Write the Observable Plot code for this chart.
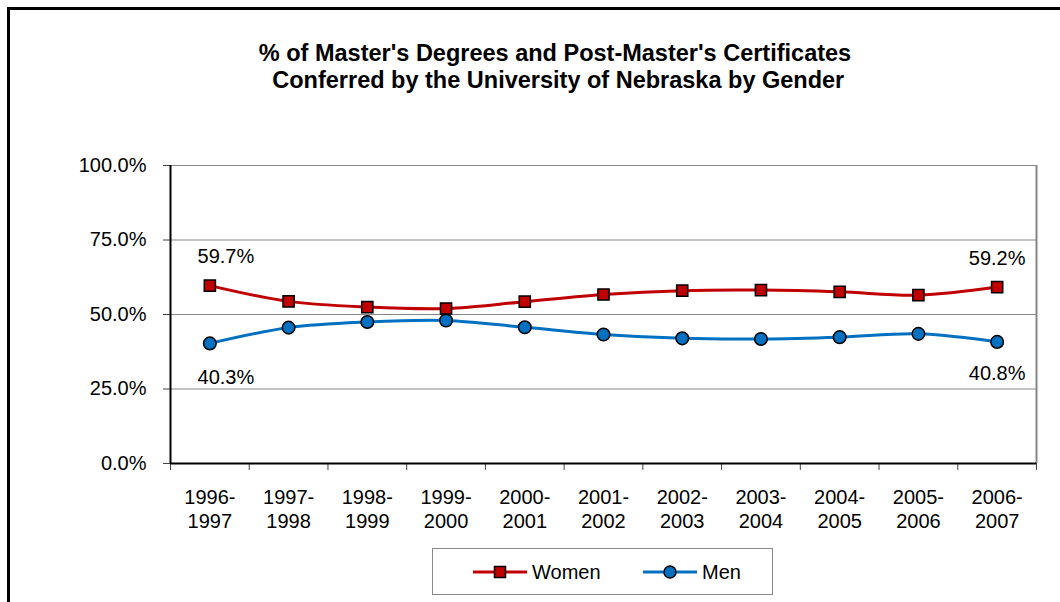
<!DOCTYPE html>
<html>
<head>
<meta charset="utf-8">
<script src="https://cdn.jsdelivr.net/npm/d3@7"></script>
<script src="https://cdn.jsdelivr.net/npm/@observablehq/plot@0.6"></script>
<style>
  html, body { margin: 0; padding: 0; background: #fff; }
  #wrap { position: relative; width: 1060px; height: 602px; overflow: hidden; font-family: "Liberation Sans", Arial, sans-serif; }
  #frame { position: absolute; left: 7px; top: 7px; width: 1200px; height: 700px; border-left: 3px solid #000; border-top: 3px solid #000; }
  #title { position: absolute; left: 155px; width: 800px; top: 40px; text-align: center; font-weight: bold; font-size: 23.5px; line-height: 27px; white-space: pre; color: #000; }
  #chart { position: absolute; left: 0; top: 0; }
  #legend { position: absolute; left: 432px; top: 548px; width: 339px; height: 45px; border: 1.5px solid #888; background: #fff; }
  #legend svg { position: absolute; left: 0; top: 0; }
</style>
</head>
<body>
<div id="wrap">
  <div id="frame"></div>
  <div id="chart"></div>
  <div id="title"></div>
  <div id="legend"></div>
</div>
<script>
const titleLines = ["% of Master's Degrees and Post-Master's Certificates", " Conferred by the University of Nebraska by Gender"];
const categories = ["1996-\n1997", "1997-\n1998", "1998-\n1999", "1999-\n2000", "2000-\n2001", "2001-\n2002", "2002-\n2003", "2003-\n2004", "2004-\n2005", "2005-\n2006", "2006-\n2007"];
const women = [59.7, 54.4, 52.5, 52.0, 54.3, 56.7, 58.0, 58.2, 57.6, 56.5, 59.2];
const men = [40.3, 45.6, 47.5, 48.0, 45.7, 43.3, 42.0, 41.8, 42.4, 43.5, 40.8];
const yTicks = [0, 25, 50, 75, 100];
const seriesNames = ["Women", "Men"];
const colors = {Women: "#C00000", Men: "#0070C0"};

document.getElementById("title").textContent = titleLines.join("\n");

const data = categories.map((c, i) => ({i, c, women: women[i], men: men[i]}));
const n = categories.length;
const bounds = d3.range(n + 1).map(i => i - 0.5);
const first = [data[0]], last = [data[n - 1]];
const pct = v => v.toFixed(1) + "%";

const chart = Plot.plot({
  width: 1060,
  height: 602,
  marginLeft: 170,
  marginRight: 24,
  marginTop: 165,
  marginBottom: 139,
  x: {domain: [-0.5, n - 0.5], axis: null, label: null},
  y: {domain: [0, 100], axis: null, label: null},
  style: {fontFamily: "'Liberation Sans', Arial, sans-serif", fontSize: "20px", background: "transparent", color: "#000", overflow: "visible"},
  marks: [
    Plot.ruleY(yTicks.filter(d => d > 0), {stroke: "#868686", strokeWidth: 1.2}),
    Plot.ruleX([n - 0.5], {stroke: "#868686", strokeWidth: 2}),
    Plot.axisY(yTicks, {label: null, tickFormat: pct, tickSize: 7, tickPadding: 17, stroke: "#444", fontSize: 20, fill: "#000"}),
    Plot.axisX(bounds, {label: null, tickSize: 7, tickFormat: () => "", stroke: "#444"}),
    Plot.axisX(d3.range(n), {label: null, tickSize: 0, tickPadding: 23, tickFormat: i => categories[i], fontSize: 20, fill: "#000", lineHeight: 1.2}),
    Plot.ruleY([0], {stroke: "#000", strokeWidth: 2}),
    Plot.ruleX([-0.5], {stroke: "#000", strokeWidth: 2}),
    Plot.line(data, {x: "i", y: "women", stroke: colors.Women, strokeWidth: 3, curve: "catmull-rom"}),
    Plot.line(data, {x: "i", y: "men", stroke: colors.Men, strokeWidth: 3, curve: "catmull-rom"}),
    Plot.dot(data, {x: "i", y: "women", symbol: "square", r: 6.3, fill: colors.Women, stroke: "#000", strokeWidth: 1.5}),
    Plot.dot(data, {x: "i", y: "men", symbol: "circle", r: 6.3, fill: colors.Men, stroke: "#000", strokeWidth: 1.5}),
    Plot.text(first, {x: "i", y: "women", text: d => pct(d.women), dx: 16, dy: -29, fontSize: 20, fill: "#000"}),
    Plot.text(last, {x: "i", y: "women", text: d => pct(d.women), dx: 0, dy: -28, fontSize: 20, fill: "#000"}),
    Plot.text(first, {x: "i", y: "men", text: d => pct(d.men), dx: 16, dy: 34, fontSize: 20, fill: "#000"}),
    Plot.text(last, {x: "i", y: "men", text: d => pct(d.men), dx: 0, dy: 32, fontSize: 20, fill: "#000"})
  ]
});
document.getElementById("chart").appendChild(chart);

// Legend
const lg = d3.select("#legend").append("svg").attr("width", 339).attr("height", 45);
const items = [
  {name: seriesNames[0], x0: 40, sym: "square"},
  {name: seriesNames[1], x0: 210, sym: "circle"}
];
const cy = 23;
items.forEach(it => {
  lg.append("line").attr("x1", it.x0).attr("x2", it.x0 + 54).attr("y1", cy).attr("y2", cy)
    .attr("stroke", colors[it.name]).attr("stroke-width", 3);
  if (it.sym === "square") {
    lg.append("rect").attr("x", it.x0 + 27 - 5.5).attr("y", cy - 5.5).attr("width", 11).attr("height", 11)
      .attr("fill", colors[it.name]).attr("stroke", "#000").attr("stroke-width", 1.5);
  } else {
    lg.append("circle").attr("cx", it.x0 + 27).attr("cy", cy).attr("r", 6)
      .attr("fill", colors[it.name]).attr("stroke", "#000").attr("stroke-width", 1.5);
  }
  lg.append("text").attr("x", it.x0 + 59).attr("y", cy).attr("dy", "0.35em")
    .attr("font-family", "'Liberation Sans', Arial, sans-serif").attr("font-size", 20).attr("fill", "#000")
    .text(it.name);
});
</script>
</body>
</html>
